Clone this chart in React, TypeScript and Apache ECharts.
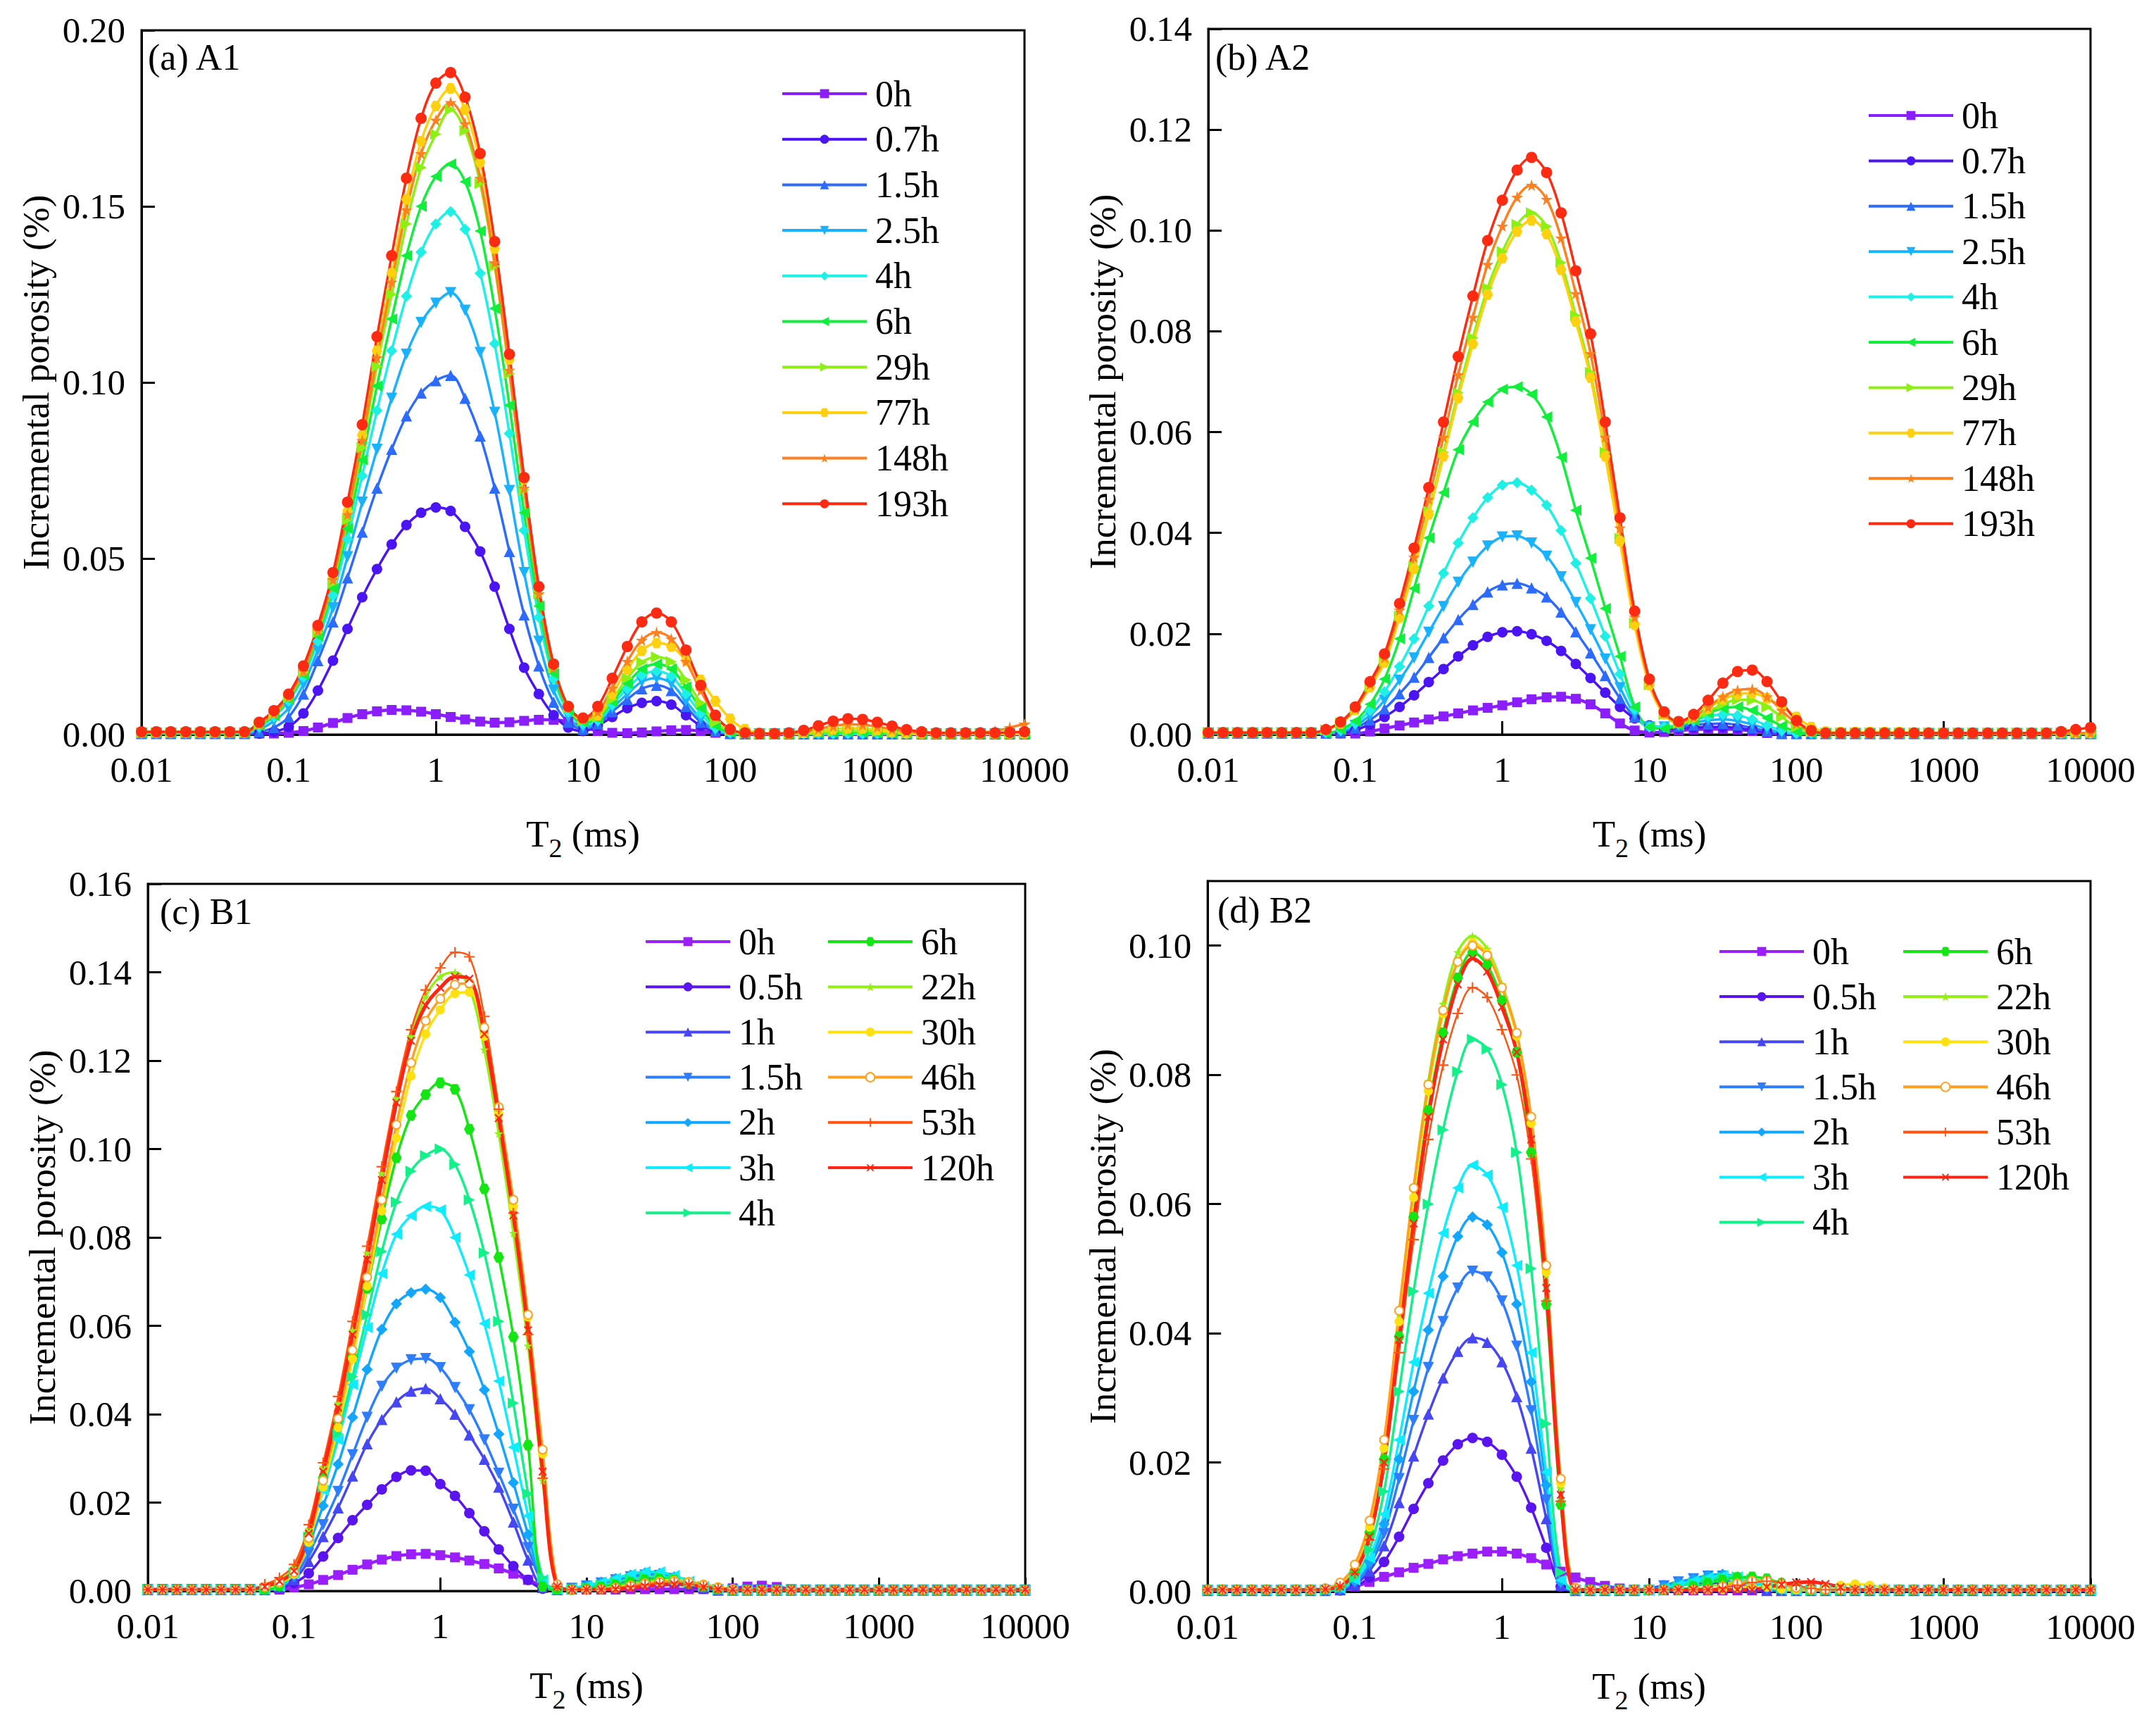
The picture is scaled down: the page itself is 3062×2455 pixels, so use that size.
import React, { useEffect, useRef } from 'react';
import * as echarts from 'echarts';

const FONT = 'Liberation Serif';

// T2 relaxation time grid (ms), shared by all curves
const T2 = [
  0.01, 0.0126, 0.0158, 0.02, 0.0251, 0.0316, 0.0398, 0.0501, 0.0631, 0.0794,
  0.1, 0.126, 0.158, 0.2, 0.251, 0.316, 0.398, 0.501, 0.631, 0.794,
  1, 1.26, 1.58, 2, 2.51, 3.16, 3.98, 5.01, 6.31, 7.94,
  10, 12.6, 15.8, 20, 25.1, 31.6, 39.8, 50.1, 63.1, 79.4,
  100, 126, 158, 200, 251, 316, 398, 501, 631, 794,
  1000, 1260, 1580, 2000, 2510, 3160, 3980, 5010, 6310, 7940,
  10000,
];

const X_TICK_LABELS = ['0.01', '0.1', '1', '10', '100', '1000', '10000'];

// ---------- (a) A1 ----------
const A1_NAMES = ['0h', '0.7h', '1.5h', '2.5h', '4h', '6h', '29h', '77h', '148h', '193h'];
const A1_0h = [
  0.0003, 0.0003, 0.0003, 0.0003, 0.0003, 0.0003, 0.0003, 0.0003, 0.0003, 0.0003,
  0.0005, 0.001, 0.002, 0.0033, 0.0047, 0.0058, 0.0066, 0.007, 0.0069, 0.0065,
  0.0058, 0.005, 0.0043, 0.0037, 0.0034, 0.0035, 0.0039, 0.0042, 0.0042, 0.0036,
  0.0022, 0.001, 0.0005, 0.0004, 0.0006, 0.0009, 0.0012, 0.0013, 0.001, 0.0005,
  0.0002, 0.0001, 0.0001, 0.0001, 0.0001, 0.0001, 0.0001, 0.0001, 0.0001, 0.0001,
  0.0001, 0.0001, 0.0001, 0.0001, 0.0001, 0.0001, 0.0001, 0.0001, 0.0001, 0.0001,
  0.0001,
];
const A1_07h = [
  0.0003, 0.0003, 0.0003, 0.0003, 0.0003, 0.0003, 0.0003, 0.0003, 0.0003, 0.0008,
  0.0022, 0.006, 0.0125, 0.021, 0.03, 0.039, 0.047, 0.054, 0.0595, 0.063,
  0.0645, 0.0635, 0.059, 0.052, 0.042, 0.03, 0.019, 0.0115, 0.0055, 0.002,
  0.001, 0.0025, 0.005, 0.0075, 0.009, 0.0095, 0.0085, 0.0055, 0.0025, 0.0008,
  0.0002, 0.0002, 0.0002, 0.0002, 0.0002, 0.0002, 0.0002, 0.0002, 0.0002, 0.0002,
  0.0002, 0.0002, 0.0002, 0.0002, 0.0002, 0.0002, 0.0002, 0.0002, 0.0002, 0.0002,
  0.0002,
];
const A1_15h = [
  0.0003, 0.0003, 0.0003, 0.0003, 0.0003, 0.0003, 0.0003, 0.0003, 0.0008, 0.002,
  0.005, 0.0115, 0.021, 0.032, 0.0445, 0.0575, 0.07, 0.081, 0.0905, 0.097,
  0.1005, 0.102, 0.0955, 0.0848, 0.07, 0.052, 0.034, 0.0195, 0.0092, 0.0035,
  0.0015, 0.003, 0.0065, 0.01, 0.013, 0.014, 0.0125, 0.008, 0.0035, 0.001,
  0.0003, 0.0002, 0.0002, 0.0002, 0.0002, 0.0002, 0.0002, 0.0002, 0.0002, 0.0002,
  0.0002, 0.0002, 0.0002, 0.0002, 0.0002, 0.0002, 0.0002, 0.0002, 0.0002, 0.0002,
  0.0002,
];
const A1_25h = [
  0.0004, 0.0004, 0.0004, 0.0004, 0.0004, 0.0004, 0.0004, 0.0004, 0.0015, 0.0038,
  0.0075, 0.0143, 0.024, 0.036, 0.0505, 0.066, 0.081, 0.0955, 0.108, 0.117,
  0.1225, 0.1255, 0.1205, 0.1085, 0.0915, 0.0693, 0.046, 0.0265, 0.0126, 0.005,
  0.002, 0.0035, 0.0075, 0.0115, 0.015, 0.016, 0.0145, 0.0095, 0.0045, 0.0012,
  0.0003, 0.0002, 0.0002, 0.0002, 0.0002, 0.0002, 0.0002, 0.0002, 0.0002, 0.0002,
  0.0002, 0.0002, 0.0002, 0.0002, 0.0002, 0.0002, 0.0002, 0.0002, 0.0002, 0.0002,
  0.0002,
];
const A1_4h = [
  0.0004, 0.0004, 0.0004, 0.0004, 0.0004, 0.0004, 0.0004, 0.0004, 0.0022, 0.005,
  0.0095, 0.0163, 0.0265, 0.0395, 0.0555, 0.0735, 0.092, 0.109, 0.1245, 0.137,
  0.145, 0.1485, 0.1435, 0.131, 0.111, 0.0855, 0.058, 0.0333, 0.0158, 0.0064,
  0.003, 0.004, 0.0085, 0.013, 0.0168, 0.018, 0.0165, 0.0115, 0.006, 0.0018,
  0.0004, 0.0002, 0.0002, 0.0002, 0.0002, 0.0002, 0.0002, 0.0002, 0.0002, 0.0002,
  0.0002, 0.0002, 0.0002, 0.0002, 0.0002, 0.0002, 0.0002, 0.0002, 0.0002, 0.0002,
  0.0002,
];
const A1_6h = [
  0.0005, 0.0005, 0.0005, 0.0005, 0.0005, 0.0005, 0.0005, 0.0005, 0.0025, 0.0054,
  0.01, 0.017, 0.028, 0.0415, 0.0585, 0.078, 0.099, 0.118, 0.136, 0.15,
  0.1585, 0.162, 0.157, 0.143, 0.121, 0.0935, 0.063, 0.0365, 0.0173, 0.007,
  0.0035, 0.0045, 0.0093, 0.0145, 0.0186, 0.02, 0.0186, 0.0135, 0.0075, 0.0025,
  0.0006, 0.0002, 0.0002, 0.0002, 0.0002, 0.0003, 0.0004, 0.0006, 0.0007, 0.0006,
  0.0004, 0.0003, 0.0002, 0.0002, 0.0002, 0.0002, 0.0002, 0.0002, 0.0002, 0.0002,
  0.0002,
];
const A1_29h = [
  0.0005, 0.0005, 0.0005, 0.0005, 0.0005, 0.0005, 0.0005, 0.0005, 0.0028, 0.0058,
  0.0105, 0.0177, 0.029, 0.043, 0.061, 0.0815, 0.1045, 0.125, 0.145, 0.161,
  0.1705, 0.1775, 0.1715, 0.1565, 0.133, 0.1025, 0.0695, 0.04, 0.019, 0.0078,
  0.004, 0.005, 0.01, 0.016, 0.0205, 0.022, 0.0207, 0.0155, 0.009, 0.0035,
  0.001, 0.0003, 0.0002, 0.0002, 0.0002, 0.0003, 0.0005, 0.0008, 0.001, 0.001,
  0.0008, 0.0005, 0.0003, 0.0002, 0.0002, 0.0002, 0.0002, 0.0002, 0.0002, 0.0002,
  0.0002,
];
const A1_77h = [
  0.0006, 0.0006, 0.0006, 0.0006, 0.0006, 0.0006, 0.0006, 0.0006, 0.0032, 0.0062,
  0.011, 0.0183, 0.03, 0.0445, 0.0635, 0.085, 0.109, 0.131, 0.152, 0.1685,
  0.1785, 0.1835, 0.1775, 0.1625, 0.138, 0.1065, 0.0725, 0.042, 0.02, 0.008,
  0.0045, 0.0055, 0.0115, 0.0185, 0.0238, 0.026, 0.025, 0.021, 0.0155, 0.0095,
  0.0045, 0.0015, 0.0005, 0.0002, 0.0003, 0.0005, 0.001, 0.0015, 0.0018, 0.0017,
  0.0013, 0.0008, 0.0004, 0.0003, 0.0003, 0.0003, 0.0003, 0.0003, 0.0003, 0.0003,
  0.0003,
];
const A1_148h = [
  0.0006, 0.0006, 0.0006, 0.0006, 0.0006, 0.0006, 0.0006, 0.0006, 0.003, 0.006,
  0.0108, 0.018, 0.0295, 0.044, 0.0625, 0.0835, 0.107, 0.1285, 0.149, 0.165,
  0.1745, 0.1795, 0.1735, 0.158, 0.134, 0.1035, 0.07, 0.04, 0.019, 0.0078,
  0.0045, 0.0065, 0.0132, 0.0208, 0.0268, 0.029, 0.0272, 0.0208, 0.0125, 0.0052,
  0.0015, 0.0004, 0.0003, 0.0002, 0.0003, 0.0008, 0.0016, 0.0024, 0.0029, 0.0028,
  0.0022, 0.0015, 0.0009, 0.0005, 0.0003, 0.0003, 0.0004, 0.0006, 0.001, 0.002,
  0.003,
];
const A1_193h = [
  0.0008, 0.0008, 0.0008, 0.0008, 0.0008, 0.0008, 0.0008, 0.0008, 0.0035, 0.0068,
  0.0115, 0.0195, 0.031, 0.046, 0.066, 0.088, 0.113, 0.136, 0.158, 0.175,
  0.185, 0.188, 0.181, 0.165, 0.14, 0.108, 0.073, 0.042, 0.02, 0.008,
  0.0047, 0.008, 0.016, 0.025, 0.032, 0.0345, 0.032, 0.024, 0.014, 0.0055,
  0.0015, 0.0005, 0.0003, 0.0003, 0.0005, 0.0012, 0.0025, 0.0038, 0.0045, 0.0043,
  0.0035, 0.0024, 0.0014, 0.0008, 0.0005, 0.0005, 0.0005, 0.0005, 0.0005, 0.0006,
  0.0008,
];

// ---------- (b) A2 ----------
const A2_NAMES = ['0h', '0.7h', '1.5h', '2.5h', '4h', '6h', '29h', '77h', '148h', '193h'];
const A2_0h = [
  0.0002, 0.0002, 0.0002, 0.0002, 0.0002, 0.0002, 0.0002, 0.0002, 0.0002, 0.0002,
  0.0002, 0.0006, 0.0012, 0.0018, 0.0024, 0.003, 0.0036, 0.0042, 0.0048, 0.0053,
  0.0058, 0.0064, 0.007, 0.0074, 0.0075, 0.0071, 0.006, 0.0042, 0.0022, 0.0008,
  0.0004, 0.0005, 0.0008, 0.001, 0.0011, 0.0011, 0.001, 0.0007, 0.0003, 0.0001,
  0.0001, 0.0001, 0.0001, 0.0001, 0.0001, 0.0001, 0.0001, 0.0001, 0.0001, 0.0001,
  0.0001, 0.0001, 0.0001, 0.0001, 0.0001, 0.0001, 0.0001, 0.0001, 0.0001, 0.0001,
  0.0001,
];
const A2_07h = [
  0.0003, 0.0003, 0.0003, 0.0003, 0.0003, 0.0003, 0.0003, 0.0003, 0.0003, 0.0003,
  0.0009, 0.002, 0.0035, 0.0055, 0.0078, 0.0104, 0.013, 0.0155, 0.0177, 0.0194,
  0.0203, 0.0205, 0.0199, 0.0186, 0.0166, 0.014, 0.0112, 0.0083, 0.0055, 0.0032,
  0.0018, 0.0012, 0.0012, 0.0014, 0.0015, 0.0015, 0.0013, 0.0009, 0.0005, 0.0002,
  0.0002, 0.0002, 0.0002, 0.0002, 0.0002, 0.0002, 0.0002, 0.0002, 0.0002, 0.0002,
  0.0002, 0.0002, 0.0002, 0.0002, 0.0002, 0.0002, 0.0002, 0.0002, 0.0002, 0.0002,
  0.0002,
];
const A2_15h = [
  0.0003, 0.0003, 0.0003, 0.0003, 0.0003, 0.0003, 0.0003, 0.0003, 0.0003, 0.0005,
  0.0013, 0.0029, 0.0051, 0.0081, 0.0114, 0.0153, 0.0192, 0.0228, 0.0258, 0.0283,
  0.0297, 0.03, 0.0291, 0.0273, 0.0243, 0.0204, 0.0162, 0.0117, 0.0072, 0.0035,
  0.0018, 0.0015, 0.0016, 0.0019, 0.0021, 0.0022, 0.0019, 0.0013, 0.0007, 0.0002,
  0.0002, 0.0002, 0.0002, 0.0002, 0.0002, 0.0002, 0.0002, 0.0002, 0.0002, 0.0002,
  0.0002, 0.0002, 0.0002, 0.0002, 0.0002, 0.0002, 0.0002, 0.0002, 0.0002, 0.0002,
  0.0002,
];
const A2_25h = [
  0.0003, 0.0003, 0.0003, 0.0003, 0.0003, 0.0003, 0.0003, 0.0003, 0.0003, 0.0007,
  0.0018, 0.0038, 0.0068, 0.0108, 0.0152, 0.0203, 0.0254, 0.0302, 0.0342, 0.0374,
  0.0392, 0.0394, 0.038, 0.0354, 0.0313, 0.0262, 0.0208, 0.015, 0.0093, 0.004,
  0.0015, 0.0015, 0.0018, 0.0024, 0.0028, 0.003, 0.0027, 0.002, 0.0011, 0.0004,
  0.0002, 0.0002, 0.0002, 0.0002, 0.0002, 0.0002, 0.0002, 0.0002, 0.0002, 0.0002,
  0.0002, 0.0002, 0.0002, 0.0002, 0.0002, 0.0002, 0.0002, 0.0002, 0.0002, 0.0002,
  0.0002,
];
const A2_4h = [
  0.0003, 0.0003, 0.0003, 0.0003, 0.0003, 0.0003, 0.0003, 0.0003, 0.0003, 0.0008,
  0.0022, 0.0048, 0.0085, 0.0135, 0.019, 0.0255, 0.032, 0.038, 0.043, 0.047,
  0.0495, 0.05, 0.0485, 0.0455, 0.0405, 0.034, 0.027, 0.0195, 0.012, 0.005,
  0.0015, 0.0015, 0.002, 0.0028, 0.0036, 0.004, 0.0038, 0.003, 0.0018, 0.0008,
  0.0002, 0.0002, 0.0002, 0.0002, 0.0002, 0.0002, 0.0002, 0.0002, 0.0002, 0.0002,
  0.0002, 0.0002, 0.0002, 0.0002, 0.0002, 0.0002, 0.0002, 0.0002, 0.0002, 0.0002,
  0.0002,
];
const A2_6h = [
  0.0003, 0.0003, 0.0003, 0.0003, 0.0003, 0.0003, 0.0003, 0.0003, 0.0003, 0.001,
  0.0027, 0.006, 0.011, 0.019, 0.029, 0.039, 0.048, 0.0565, 0.062, 0.066,
  0.0685, 0.069, 0.0675, 0.063, 0.055, 0.0445, 0.035, 0.025, 0.0155, 0.0055,
  0.0015, 0.0012, 0.0018, 0.0028, 0.0042, 0.0052, 0.0055, 0.0048, 0.0033, 0.0017,
  0.0006, 0.0002, 0.0002, 0.0002, 0.0002, 0.0002, 0.0002, 0.0002, 0.0002, 0.0002,
  0.0002, 0.0002, 0.0002, 0.0002, 0.0002, 0.0002, 0.0002, 0.0002, 0.0002, 0.0002,
  0.0002,
];
const A2_29h = [
  0.0004, 0.0004, 0.0004, 0.0004, 0.0004, 0.0004, 0.0004, 0.0004, 0.0009, 0.0023,
  0.005, 0.0095, 0.0145, 0.0235, 0.0334, 0.0443, 0.056, 0.0678, 0.0787, 0.0886,
  0.0958, 0.1012, 0.1035, 0.1008, 0.0936, 0.0831, 0.0718, 0.056, 0.0389, 0.0221,
  0.0099, 0.004, 0.0022, 0.003, 0.0045, 0.006, 0.0069, 0.0068, 0.0055, 0.0035,
  0.0015, 0.0005, 0.0003, 0.0003, 0.0003, 0.0003, 0.0003, 0.0003, 0.0003, 0.0003,
  0.0003, 0.0003, 0.0003, 0.0003, 0.0003, 0.0003, 0.0003, 0.0003, 0.0003, 0.0003,
  0.0003,
];
const A2_77h = [
  0.0004, 0.0004, 0.0004, 0.0004, 0.0004, 0.0004, 0.0004, 0.0004, 0.0009, 0.0022,
  0.0049, 0.0094, 0.0143, 0.0232, 0.0329, 0.0437, 0.0552, 0.0668, 0.0775, 0.0873,
  0.0945, 0.0998, 0.102, 0.0993, 0.0922, 0.0819, 0.0708, 0.0552, 0.0384, 0.0218,
  0.0098, 0.004, 0.0025, 0.0035, 0.0052, 0.007, 0.008, 0.0082, 0.0072, 0.0055,
  0.0035, 0.0015, 0.0006, 0.0005, 0.0005, 0.0005, 0.0005, 0.0005, 0.0004, 0.0004,
  0.0003, 0.0003, 0.0003, 0.0003, 0.0003, 0.0003, 0.0003, 0.0003, 0.0003, 0.0003,
  0.0003,
];
const A2_148h = [
  0.0004, 0.0004, 0.0004, 0.0004, 0.0004, 0.0004, 0.0004, 0.0004, 0.001, 0.0024,
  0.0052, 0.01, 0.0153, 0.0247, 0.0352, 0.0467, 0.059, 0.0714, 0.0828, 0.0933,
  0.1009, 0.1066, 0.109, 0.1062, 0.0985, 0.0875, 0.0756, 0.059, 0.041, 0.0233,
  0.0105, 0.0043, 0.0025, 0.0035, 0.0055, 0.0075, 0.0088, 0.009, 0.0075, 0.0048,
  0.0022, 0.0007, 0.0003, 0.0003, 0.0003, 0.0003, 0.0003, 0.0003, 0.0003, 0.0003,
  0.0003, 0.0003, 0.0003, 0.0003, 0.0003, 0.0003, 0.0003, 0.0003, 0.0003, 0.0003,
  0.0003,
];
const A2_193h = [
  0.0004, 0.0004, 0.0004, 0.0004, 0.0004, 0.0004, 0.0004, 0.0004, 0.001, 0.0025,
  0.0055, 0.0105, 0.016, 0.026, 0.037, 0.049, 0.062, 0.075, 0.087, 0.098,
  0.106, 0.112, 0.1145, 0.1115, 0.1035, 0.092, 0.0795, 0.062, 0.043, 0.0245,
  0.011, 0.0045, 0.0026, 0.004, 0.0068, 0.0102, 0.0125, 0.0128, 0.0105, 0.0065,
  0.0028, 0.0008, 0.0003, 0.0003, 0.0003, 0.0003, 0.0003, 0.0003, 0.0003, 0.0003,
  0.0003, 0.0003, 0.0003, 0.0003, 0.0003, 0.0003, 0.0003, 0.0003, 0.0006, 0.001,
  0.0014,
];

// ---------- (c) B1 ----------
const B_NAMES = ['0h', '0.5h', '1h', '1.5h', '2h', '3h', '4h', '6h', '22h', '30h', '46h', '53h', '120h'];
const B1_0h = [
  0.0003, 0.0003, 0.0003, 0.0003, 0.0003, 0.0003, 0.0003, 0.0003, 0.0003, 0.0003,
  0.0008, 0.0015, 0.0025, 0.0036, 0.0048, 0.006, 0.0071, 0.0079, 0.0083, 0.0084,
  0.0081, 0.0076, 0.0069, 0.0061, 0.0051, 0.0039, 0.0025, 0.0012, 0.0006, 0.0004,
  0.0003, 0.0003, 0.0003, 0.0004, 0.0004, 0.0004, 0.0004, 0.0004, 0.0004, 0.0004,
  0.0006, 0.001, 0.0012, 0.0009, 0.0004, 0.0003, 0.0003, 0.0003, 0.0003, 0.0003,
  0.0003, 0.0003, 0.0003, 0.0003, 0.0003, 0.0003, 0.0003, 0.0003, 0.0003, 0.0003,
  0.0003,
];
const B1_05h = [
  0.0003, 0.0003, 0.0003, 0.0003, 0.0003, 0.0003, 0.0003, 0.0003, 0.0003, 0.0006,
  0.0018, 0.004, 0.0078, 0.012, 0.016, 0.0195, 0.023, 0.0258, 0.0273, 0.0272,
  0.0242, 0.0215, 0.0176, 0.0135, 0.0094, 0.0056, 0.0025, 0.0005, 0.0003, 0.0004,
  0.0008, 0.0013, 0.0018, 0.0022, 0.0024, 0.0023, 0.0018, 0.0011, 0.0005, 0.0002,
  0.0002, 0.0002, 0.0002, 0.0002, 0.0002, 0.0002, 0.0002, 0.0002, 0.0002, 0.0002,
  0.0002, 0.0002, 0.0002, 0.0002, 0.0002, 0.0002, 0.0002, 0.0002, 0.0002, 0.0002,
  0.0002,
];
const B1_1h = [
  0.0003, 0.0003, 0.0003, 0.0003, 0.0003, 0.0003, 0.0003, 0.0003, 0.0003, 0.0008,
  0.0026, 0.0067, 0.0123, 0.0188, 0.026, 0.0333, 0.0388, 0.0428, 0.0452, 0.0458,
  0.0435, 0.04, 0.0353, 0.0298, 0.0235, 0.0156, 0.007, 0.0008, 0.0003, 0.0005,
  0.001, 0.0016, 0.0022, 0.0028, 0.0031, 0.003, 0.0024, 0.0015, 0.0007, 0.0002,
  0.0002, 0.0002, 0.0002, 0.0002, 0.0002, 0.0002, 0.0002, 0.0002, 0.0002, 0.0002,
  0.0002, 0.0002, 0.0002, 0.0002, 0.0002, 0.0002, 0.0002, 0.0002, 0.0002, 0.0002,
  0.0002,
];
const B1_15h = [
  0.0003, 0.0003, 0.0003, 0.0003, 0.0003, 0.0003, 0.0003, 0.0003, 0.0003, 0.0009,
  0.003, 0.0085, 0.015, 0.0225, 0.0308, 0.0393, 0.0463, 0.0504, 0.0523, 0.0526,
  0.0505, 0.046, 0.041, 0.0342, 0.0266, 0.0185, 0.0098, 0.0018, 0.0003, 0.0006,
  0.0011, 0.0018, 0.0025, 0.0032, 0.0036, 0.0035, 0.0028, 0.0017, 0.0008, 0.0002,
  0.0002, 0.0002, 0.0002, 0.0002, 0.0002, 0.0002, 0.0002, 0.0002, 0.0002, 0.0002,
  0.0002, 0.0002, 0.0002, 0.0002, 0.0002, 0.0002, 0.0002, 0.0002, 0.0002, 0.0002,
  0.0002,
];
const B1_2h = [
  0.0003, 0.0003, 0.0003, 0.0003, 0.0003, 0.0003, 0.0003, 0.0003, 0.0003, 0.001,
  0.0035, 0.0104, 0.0193, 0.0287, 0.0393, 0.0501, 0.0592, 0.065, 0.0675, 0.0683,
  0.0664, 0.0608, 0.0542, 0.0455, 0.0355, 0.0245, 0.0128, 0.0022, 0.0003, 0.0006,
  0.0012, 0.002, 0.0028, 0.0036, 0.0041, 0.004, 0.0032, 0.002, 0.0009, 0.0003,
  0.0002, 0.0002, 0.0002, 0.0002, 0.0002, 0.0002, 0.0002, 0.0002, 0.0002, 0.0002,
  0.0002, 0.0002, 0.0002, 0.0002, 0.0002, 0.0002, 0.0002, 0.0002, 0.0002, 0.0002,
  0.0002,
];
const B1_3h = [
  0.0003, 0.0003, 0.0003, 0.0003, 0.0003, 0.0003, 0.0003, 0.0003, 0.0003, 0.001,
  0.0039, 0.0118, 0.0228, 0.0342, 0.0467, 0.0596, 0.0718, 0.0807, 0.0849, 0.087,
  0.0862, 0.08, 0.0715, 0.0605, 0.0475, 0.0325, 0.017, 0.0025, 0.0003, 0.0006,
  0.0012, 0.002, 0.0029, 0.0038, 0.0044, 0.0043, 0.0035, 0.0022, 0.001, 0.0003,
  0.0002, 0.0002, 0.0002, 0.0002, 0.0002, 0.0002, 0.0002, 0.0002, 0.0002, 0.0002,
  0.0002, 0.0002, 0.0002, 0.0002, 0.0002, 0.0002, 0.0002, 0.0002, 0.0002, 0.0002,
  0.0002,
];
const B1_4h = [
  0.0003, 0.0003, 0.0003, 0.0003, 0.0003, 0.0003, 0.0003, 0.0003, 0.0003, 0.0011,
  0.0041, 0.0122, 0.0235, 0.0355, 0.0485, 0.0625, 0.0768, 0.088, 0.095, 0.0985,
  0.1, 0.0965, 0.0885, 0.0765, 0.061, 0.0425, 0.022, 0.003, 0.0003, 0.0004,
  0.0008, 0.0013, 0.002, 0.0027, 0.0032, 0.0033, 0.0028, 0.0019, 0.001, 0.0003,
  0.0002, 0.0002, 0.0002, 0.0002, 0.0002, 0.0002, 0.0002, 0.0002, 0.0002, 0.0002,
  0.0002, 0.0002, 0.0002, 0.0002, 0.0002, 0.0002, 0.0002, 0.0002, 0.0002, 0.0002,
  0.0002,
];
const B1_6h = [
  0.0003, 0.0003, 0.0003, 0.0003, 0.0003, 0.0003, 0.0003, 0.0003, 0.0003, 0.0012,
  0.0044, 0.0127, 0.0256, 0.0386, 0.053, 0.0685, 0.0842, 0.098, 0.1076, 0.1123,
  0.115, 0.1135, 0.1045, 0.091, 0.0755, 0.0575, 0.033, 0.001, 0.0003, 0.0003,
  0.0005, 0.0009, 0.0014, 0.002, 0.0025, 0.0027, 0.0025, 0.0018, 0.001, 0.0004,
  0.0002, 0.0002, 0.0002, 0.0002, 0.0002, 0.0002, 0.0002, 0.0002, 0.0002, 0.0002,
  0.0002, 0.0002, 0.0002, 0.0002, 0.0002, 0.0002, 0.0002, 0.0002, 0.0002, 0.0002,
  0.0002,
];
const B1_22h = [
  0.0003, 0.0003, 0.0003, 0.0003, 0.0003, 0.0003, 0.0003, 0.0003, 0.0012, 0.0026,
  0.0052, 0.014, 0.028, 0.0425, 0.059, 0.0765, 0.0945, 0.1115, 0.1255, 0.1345,
  0.139, 0.14, 0.1365, 0.1225, 0.1035, 0.081, 0.0555, 0.025, 0.001, 0.0003,
  0.0003, 0.0006, 0.001, 0.0015, 0.002, 0.0024, 0.0025, 0.002, 0.0013, 0.0006,
  0.0002, 0.0002, 0.0002, 0.0002, 0.0002, 0.0002, 0.0002, 0.0002, 0.0002, 0.0002,
  0.0002, 0.0002, 0.0002, 0.0002, 0.0002, 0.0002, 0.0002, 0.0002, 0.0002, 0.0002,
  0.0002,
];
const B1_30h = [
  0.0003, 0.0003, 0.0003, 0.0003, 0.0003, 0.0003, 0.0003, 0.0003, 0.0008, 0.0018,
  0.0038, 0.011, 0.0235, 0.037, 0.0525, 0.069, 0.086, 0.1025, 0.1165, 0.126,
  0.1315, 0.1352, 0.1355, 0.1255, 0.108, 0.087, 0.062, 0.031, 0.0015, 0.0003,
  0.0003, 0.0005, 0.0008, 0.0013, 0.0018, 0.0022, 0.0024, 0.0022, 0.0016, 0.001,
  0.0005, 0.0002, 0.0002, 0.0002, 0.0002, 0.0002, 0.0002, 0.0002, 0.0002, 0.0002,
  0.0002, 0.0002, 0.0002, 0.0002, 0.0002, 0.0002, 0.0002, 0.0002, 0.0002, 0.0002,
  0.0002,
];
const B1_46h = [
  0.0003, 0.0003, 0.0003, 0.0003, 0.0003, 0.0003, 0.0003, 0.0003, 0.0009, 0.002,
  0.0042, 0.012, 0.025, 0.039, 0.0545, 0.071, 0.0885, 0.1055, 0.1195, 0.129,
  0.134, 0.1372, 0.1375, 0.1275, 0.1095, 0.0885, 0.0625, 0.032, 0.0015, 0.0003,
  0.0003, 0.0004, 0.0007, 0.0012, 0.0017, 0.002, 0.0022, 0.002, 0.0014, 0.0008,
  0.0003, 0.0002, 0.0002, 0.0002, 0.0002, 0.0002, 0.0002, 0.0002, 0.0002, 0.0002,
  0.0002, 0.0002, 0.0002, 0.0002, 0.0002, 0.0002, 0.0002, 0.0002, 0.0002, 0.0002,
  0.0002,
];
const B1_53h = [
  0.0003, 0.0003, 0.0003, 0.0003, 0.0003, 0.0003, 0.0003, 0.0003, 0.0015, 0.003,
  0.006, 0.015, 0.029, 0.044, 0.061, 0.078, 0.096, 0.113, 0.127, 0.136,
  0.141, 0.1445, 0.1435, 0.13, 0.109, 0.0855, 0.058, 0.0255, 0.001, 0.0003,
  0.0003, 0.0004, 0.0006, 0.001, 0.0014, 0.0017, 0.0018, 0.0015, 0.001, 0.0005,
  0.0002, 0.0002, 0.0002, 0.0002, 0.0002, 0.0002, 0.0002, 0.0002, 0.0002, 0.0002,
  0.0002, 0.0002, 0.0002, 0.0002, 0.0002, 0.0002, 0.0002, 0.0002, 0.0002, 0.0002,
  0.0002,
];
const B1_120h = [
  0.0003, 0.0003, 0.0003, 0.0003, 0.0003, 0.0003, 0.0003, 0.0004, 0.001, 0.0022,
  0.0045, 0.013, 0.027, 0.0415, 0.058, 0.075, 0.093, 0.1105, 0.1245, 0.1325,
  0.1365, 0.139, 0.1385, 0.126, 0.107, 0.085, 0.059, 0.027, 0.001, 0.0003,
  0.0003, 0.0003, 0.0004, 0.0006, 0.001, 0.0013, 0.0015, 0.0013, 0.0009, 0.0004,
  0.0003, 0.0003, 0.0003, 0.0003, 0.0003, 0.0003, 0.0003, 0.0003, 0.0003, 0.0003,
  0.0003, 0.0003, 0.0003, 0.0003, 0.0003, 0.0003, 0.0003, 0.0003, 0.0003, 0.0003,
  0.0003,
];

// ---------- (d) B2 ----------
const B2_0h = [
  0.0002, 0.0002, 0.0002, 0.0002, 0.0002, 0.0002, 0.0002, 0.0002, 0.0002, 0.0003,
  0.0008, 0.0015, 0.0023, 0.003, 0.0037, 0.0043, 0.005, 0.0055, 0.0059, 0.0062,
  0.0062, 0.0059, 0.0052, 0.0042, 0.0031, 0.0022, 0.0015, 0.0009, 0.0005, 0.0003,
  0.0002, 0.0002, 0.0002, 0.0002, 0.0002, 0.0002, 0.0002, 0.0002, 0.0002, 0.0002,
  0.0002, 0.0002, 0.0002, 0.0002, 0.0002, 0.0002, 0.0002, 0.0002, 0.0002, 0.0002,
  0.0002, 0.0002, 0.0002, 0.0002, 0.0002, 0.0002, 0.0002, 0.0002, 0.0002, 0.0002,
  0.0002,
];
const B2_05h = [
  0.0002, 0.0002, 0.0002, 0.0002, 0.0002, 0.0002, 0.0002, 0.0002, 0.0002, 0.0002,
  0.0008, 0.0022, 0.0046, 0.0085, 0.0128, 0.0168, 0.0203, 0.0228, 0.0238, 0.0232,
  0.0212, 0.0178, 0.013, 0.0068, 0.0008, 0.0002, 0.0002, 0.0002, 0.0002, 0.0002,
  0.0003, 0.0006, 0.001, 0.0013, 0.0014, 0.0012, 0.0008, 0.0004, 0.0002, 0.0002,
  0.0002, 0.0002, 0.0002, 0.0002, 0.0002, 0.0002, 0.0002, 0.0002, 0.0002, 0.0002,
  0.0002, 0.0002, 0.0002, 0.0002, 0.0002, 0.0002, 0.0002, 0.0002, 0.0002, 0.0002,
  0.0002,
];
const B2_1h = [
  0.0002, 0.0002, 0.0002, 0.0002, 0.0002, 0.0002, 0.0002, 0.0002, 0.0002, 0.0003,
  0.0011, 0.0032, 0.0071, 0.0138, 0.021, 0.0275, 0.0331, 0.0372, 0.0393, 0.0386,
  0.0356, 0.0302, 0.0222, 0.0113, 0.001, 0.0002, 0.0002, 0.0002, 0.0002, 0.0002,
  0.0005, 0.001, 0.0015, 0.0019, 0.002, 0.0018, 0.0012, 0.0006, 0.0002, 0.0002,
  0.0002, 0.0002, 0.0002, 0.0002, 0.0002, 0.0002, 0.0002, 0.0002, 0.0002, 0.0002,
  0.0002, 0.0002, 0.0002, 0.0002, 0.0002, 0.0002, 0.0002, 0.0002, 0.0002, 0.0002,
  0.0002,
];
const B2_15h = [
  0.0002, 0.0002, 0.0002, 0.0002, 0.0002, 0.0002, 0.0002, 0.0002, 0.0002, 0.0004,
  0.0014, 0.004, 0.009, 0.0175, 0.0265, 0.0347, 0.0418, 0.047, 0.0496, 0.0487,
  0.045, 0.038, 0.028, 0.0142, 0.0013, 0.0002, 0.0002, 0.0002, 0.0002, 0.0002,
  0.0002, 0.0009, 0.0015, 0.002, 0.0024, 0.0024, 0.0019, 0.0011, 0.0004, 0.0002,
  0.0002, 0.0002, 0.0002, 0.0002, 0.0002, 0.0002, 0.0002, 0.0002, 0.0002, 0.0002,
  0.0002, 0.0002, 0.0002, 0.0002, 0.0002, 0.0002, 0.0002, 0.0002, 0.0002, 0.0002,
  0.0002,
];
const B2_2h = [
  0.0002, 0.0002, 0.0002, 0.0002, 0.0002, 0.0002, 0.0002, 0.0002, 0.0002, 0.0004,
  0.0016, 0.0046, 0.0105, 0.0205, 0.031, 0.0405, 0.0488, 0.055, 0.058, 0.0568,
  0.0525, 0.0445, 0.0325, 0.0165, 0.0015, 0.0002, 0.0002, 0.0002, 0.0002, 0.0002,
  0.0002, 0.0008, 0.0014, 0.002, 0.0025, 0.0027, 0.0023, 0.0015, 0.0006, 0.0002,
  0.0002, 0.0002, 0.0002, 0.0002, 0.0002, 0.0002, 0.0002, 0.0002, 0.0002, 0.0002,
  0.0002, 0.0002, 0.0002, 0.0002, 0.0002, 0.0002, 0.0002, 0.0002, 0.0002, 0.0002,
  0.0002,
];
const B2_3h = [
  0.0002, 0.0002, 0.0002, 0.0002, 0.0002, 0.0002, 0.0002, 0.0002, 0.0002, 0.0005,
  0.0018, 0.0052, 0.012, 0.0235, 0.0355, 0.0462, 0.0555, 0.0625, 0.066, 0.0645,
  0.0595, 0.0505, 0.037, 0.0185, 0.0018, 0.0002, 0.0002, 0.0002, 0.0002, 0.0002,
  0.0002, 0.0006, 0.0011, 0.0017, 0.0022, 0.0025, 0.0023, 0.0016, 0.0008, 0.0003,
  0.0002, 0.0002, 0.0002, 0.0002, 0.0002, 0.0002, 0.0002, 0.0002, 0.0002, 0.0002,
  0.0002, 0.0002, 0.0002, 0.0002, 0.0002, 0.0002, 0.0002, 0.0002, 0.0002, 0.0002,
  0.0002,
];
const B2_4h = [
  0.0002, 0.0002, 0.0002, 0.0002, 0.0002, 0.0002, 0.0002, 0.0002, 0.0002, 0.0006,
  0.0022, 0.0065, 0.0155, 0.031, 0.0465, 0.06, 0.0715, 0.0805, 0.0855, 0.084,
  0.0785, 0.068, 0.05, 0.026, 0.003, 0.0002, 0.0002, 0.0002, 0.0002, 0.0002,
  0.0002, 0.0002, 0.0008, 0.0013, 0.0018, 0.0022, 0.0023, 0.0019, 0.0012, 0.0005,
  0.0002, 0.0002, 0.0002, 0.0002, 0.0002, 0.0002, 0.0002, 0.0002, 0.0002, 0.0002,
  0.0002, 0.0002, 0.0002, 0.0002, 0.0002, 0.0002, 0.0002, 0.0002, 0.0002, 0.0002,
  0.0002,
];
const B2_6h = [
  0.0003, 0.0003, 0.0003, 0.0003, 0.0003, 0.0003, 0.0003, 0.0003, 0.0004, 0.001,
  0.0034, 0.0092, 0.0205, 0.0395, 0.058, 0.0745, 0.0865, 0.095, 0.099, 0.097,
  0.0915, 0.0835, 0.068, 0.0445, 0.0135, 0.0004, 0.0003, 0.0003, 0.0003, 0.0003,
  0.0003, 0.0003, 0.0003, 0.0008, 0.0013, 0.0018, 0.0022, 0.0023, 0.002, 0.0013,
  0.0006, 0.0003, 0.0003, 0.0003, 0.0003, 0.0003, 0.0003, 0.0003, 0.0003, 0.0003,
  0.0003, 0.0003, 0.0003, 0.0003, 0.0003, 0.0003, 0.0003, 0.0003, 0.0003, 0.0003,
  0.0003,
];
const B2_22h = [
  0.0003, 0.0003, 0.0003, 0.0003, 0.0003, 0.0003, 0.0003, 0.0003, 0.0004, 0.0012,
  0.004, 0.0105, 0.023, 0.043, 0.0625, 0.079, 0.091, 0.099, 0.1015, 0.0995,
  0.094, 0.0865, 0.0725, 0.049, 0.016, 0.0005, 0.0003, 0.0003, 0.0003, 0.0003,
  0.0003, 0.0003, 0.0003, 0.0003, 0.0008, 0.0012, 0.0016, 0.0018, 0.0016, 0.0011,
  0.0005, 0.0003, 0.0003, 0.0003, 0.0003, 0.0003, 0.0003, 0.0003, 0.0003, 0.0003,
  0.0003, 0.0003, 0.0003, 0.0003, 0.0003, 0.0003, 0.0003, 0.0003, 0.0003, 0.0003,
  0.0003,
];
const B2_30h = [
  0.0003, 0.0003, 0.0003, 0.0003, 0.0003, 0.0003, 0.0003, 0.0003, 0.0004, 0.0012,
  0.0038, 0.01, 0.0222, 0.0418, 0.061, 0.0775, 0.0895, 0.0975, 0.1005, 0.0988,
  0.0935, 0.086, 0.0725, 0.0495, 0.0168, 0.0006, 0.0003, 0.0003, 0.0003, 0.0003,
  0.0003, 0.0003, 0.0003, 0.0003, 0.0003, 0.0003, 0.0006, 0.0008, 0.0007, 0.0004,
  0.0003, 0.0003, 0.0006, 0.001, 0.0012, 0.001, 0.0006, 0.0003, 0.0003, 0.0003,
  0.0003, 0.0003, 0.0003, 0.0003, 0.0003, 0.0003, 0.0003, 0.0003, 0.0003, 0.0003,
  0.0003,
];
const B2_46h = [
  0.0003, 0.0003, 0.0003, 0.0003, 0.0003, 0.0003, 0.0003, 0.0003, 0.0005, 0.0014,
  0.0042, 0.011, 0.0235, 0.0435, 0.0625, 0.0785, 0.09, 0.0975, 0.1, 0.0985,
  0.0935, 0.0865, 0.0735, 0.0505, 0.0175, 0.0006, 0.0003, 0.0003, 0.0003, 0.0003,
  0.0003, 0.0003, 0.0003, 0.0003, 0.0003, 0.0008, 0.0013, 0.0017, 0.0017, 0.0012,
  0.0006, 0.0003, 0.0003, 0.0003, 0.0003, 0.0003, 0.0003, 0.0003, 0.0003, 0.0003,
  0.0003, 0.0003, 0.0003, 0.0003, 0.0003, 0.0003, 0.0003, 0.0003, 0.0003, 0.0003,
  0.0003,
];
const B2_53h = [
  0.0003, 0.0003, 0.0003, 0.0003, 0.0003, 0.0003, 0.0003, 0.0003, 0.0004, 0.0008,
  0.0028, 0.008, 0.019, 0.037, 0.0545, 0.07, 0.0815, 0.0895, 0.0935, 0.092,
  0.087, 0.08, 0.067, 0.045, 0.014, 0.0003, 0.0003, 0.0003, 0.0003, 0.0003,
  0.0003, 0.0003, 0.0003, 0.0003, 0.0003, 0.0006, 0.001, 0.0014, 0.0016, 0.0014,
  0.001, 0.0005, 0.0003, 0.0003, 0.0003, 0.0003, 0.0003, 0.0003, 0.0003, 0.0003,
  0.0003, 0.0003, 0.0003, 0.0003, 0.0003, 0.0003, 0.0003, 0.0003, 0.0003, 0.0003,
  0.0003,
];
const B2_120h = [
  0.0003, 0.0003, 0.0003, 0.0003, 0.0003, 0.0003, 0.0003, 0.0003, 0.0004, 0.0008,
  0.003, 0.0085, 0.02, 0.039, 0.057, 0.0735, 0.0855, 0.094, 0.098, 0.096,
  0.0905, 0.0835, 0.07, 0.047, 0.015, 0.0003, 0.0003, 0.0003, 0.0003, 0.0003,
  0.0003, 0.0003, 0.0003, 0.0003, 0.0003, 0.0003, 0.0003, 0.0003, 0.0007, 0.0011,
  0.0014, 0.0015, 0.0012, 0.0007, 0.0003, 0.0003, 0.0003, 0.0003, 0.0003, 0.0003,
  0.0003, 0.0003, 0.0003, 0.0003, 0.0003, 0.0003, 0.0003, 0.0003, 0.0003, 0.0003,
  0.0003,
];

// ---------- styles ----------
const A_COLORS = ['#8B1EFF', '#4A14F5', '#2D6BFF', '#18B2FF', '#1EF0E6', '#12EE3C', '#8CF014', '#FFD00F', '#FF8020', '#FF2A12'];
const B_COLORS = ['#9A1EFF', '#5A14F0', '#4646F5', '#2F7DFF', '#12A6FF', '#10ECFF', '#12F08A', '#14E614', '#92F014', '#FFE010', '#FFA022', '#FF5412', '#FF2414'];

const STAR = 'path://M50,0 L61,35 L98,35 L68,57 L79,91 L50,70 L21,91 L32,57 L2,35 L39,35 Z';
const HEX = 'path://M25,0 L75,0 L100,43 L75,86 L25,86 L0,43 Z';
const PLUS = 'path://M43,0 H57 V43 H100 V57 H57 V100 H43 V57 H0 V43 H43 Z';

type Mk = { symbol: string; rotate?: number; size?: number; width?: number };
const A_MARKS: Mk[] = [
  { symbol: 'rect', size: 14, width: 4.5 },
  { symbol: 'circle', size: 15 },
  { symbol: 'triangle', size: 16 },
  { symbol: 'triangle', rotate: 180, size: 16 },
  { symbol: 'diamond', size: 16 },
  { symbol: 'triangle', rotate: 90, size: 16 },
  { symbol: 'triangle', rotate: -90, size: 16 },
  { symbol: HEX, size: 15 },
  { symbol: STAR, size: 17 },
  { symbol: 'circle', size: 16 },
];
const B_MARKS: Mk[] = [
  { symbol: 'rect', size: 14, width: 4.5 },
  { symbol: 'circle', size: 15 },
  { symbol: 'triangle', size: 16 },
  { symbol: 'triangle', rotate: 180, size: 16 },
  { symbol: 'diamond', size: 16 },
  { symbol: 'triangle', rotate: 90, size: 16 },
  { symbol: 'triangle', rotate: -90, size: 16 },
  { symbol: HEX, size: 15 },
  { symbol: STAR, size: 13 },
  { symbol: 'circle', size: 13 },
  { symbol: 'emptyCircle', size: 12 },
  { symbol: PLUS, size: 15, width: 2.5 },
  { symbol: PLUS, rotate: 45, size: 15, width: 5 },
];

type PanelCfg = {
  label: string;
  labelX: number;
  labelY: number;
  grid: { left: number; top: number; width: number; height: number };
  xNameGap: number;
  yMax: number;
  yInterval: number;
  showMaxLabel: boolean;
  names: string[];
  values: number[][];
  colors: string[];
  marks: Mk[];
  legends: { left: number; top: number; from: number; to: number }[];
  legendGap: number;
};

function buildOption(cfg: PanelCfg) {
  const series = cfg.names.map((name, i) => {
    const mk = cfg.marks[i];
    return {
      type: 'line',
      name,
      data: T2.map((x, j) => [x, cfg.values[i][j]]),
      smooth: 0.35,
      showSymbol: true,
      showAllSymbol: true,
      symbol: mk.symbol,
      symbolSize: mk.size || 14,
      symbolRotate: mk.rotate || 0,
      lineStyle: { color: cfg.colors[i], width: mk.width || 3.5 },
      itemStyle: { color: cfg.colors[i], borderWidth: mk.symbol === 'emptyCircle' ? 2.5 : 0 },
      emphasis: { disabled: true },
      animation: false,
    };
  });
  const legends = cfg.legends.map((lg) => ({
    show: true,
    orient: 'vertical',
    left: lg.left,
    top: lg.top,
    padding: 0,
    itemWidth: 120,
    itemHeight: 16,
    itemGap: cfg.legendGap,
    selectedMode: false,
    data: cfg.names.slice(lg.from, lg.to),
    lineStyle: { width: 4 },
    textStyle: { fontFamily: FONT, fontSize: 52, color: '#000', lineHeight: 52, padding: [0, 0, 0, 7] },
  }));
  return {
    animation: false,
    backgroundColor: '#fff',
    textStyle: { fontFamily: FONT },
    grid: { ...cfg.grid, show: true, borderColor: '#000', borderWidth: 3, backgroundColor: 'transparent' },
    legend: legends,
    graphic: [
      {
        type: 'text',
        x: cfg.labelX,
        y: cfg.labelY,
        style: { text: cfg.label, fontFamily: FONT, fontSize: 52, fill: '#000', align: 'left', verticalAlign: 'middle' },
      },
    ],
    xAxis: {
      type: 'log',
      logBase: 10,
      min: 0.01,
      max: 10000,
      axisLine: { show: true, onZero: false, lineStyle: { color: '#000', width: 3 } },
      axisTick: { show: true, inside: true, length: 19, lineStyle: { color: '#000', width: 3 } },
      minorTick: { show: false },
      splitLine: { show: false },
      axisLabel: {
        margin: 24,
        fontSize: 51,
        color: '#000',
        fontFamily: FONT,
        formatter: (v: number) => X_TICK_LABELS[Math.round(Math.log10(v)) + 2] ?? '',
      },
      name: '{t|T}{s|2}{t| (ms)}',
      nameLocation: 'middle',
      nameGap: cfg.xNameGap,
      nameTextStyle: {
        rich: {
          t: { fontSize: 53, lineHeight: 80, fontFamily: FONT, color: '#000' },
          s: { fontSize: 38, lineHeight: 40, padding: [40, 0, 0, 0], fontFamily: FONT, color: '#000' },
        },
      },
    },
    yAxis: {
      type: 'value',
      min: 0,
      max: cfg.yMax,
      interval: cfg.yInterval,
      axisLine: { show: true, lineStyle: { color: '#000', width: 3 } },
      axisTick: { show: true, inside: true, length: 19, lineStyle: { color: '#000', width: 3 } },
      splitLine: { show: false },
      axisLabel: {
        margin: 23,
        fontSize: 51,
        color: '#000',
        fontFamily: FONT,
        showMaxLabel: cfg.showMaxLabel,
        formatter: (v: number) => v.toFixed(2),
      },
      name: 'Incremental porosity (%)',
      nameLocation: 'middle',
      nameGap: 120,
      nameRotate: 90,
      nameTextStyle: { fontSize: 53, fontFamily: FONT, color: '#000' },
    },
    series,
  };
}

const PANELS: { pos: { left: number; top: number; width: number; height: number }; cfg: PanelCfg }[] = [
  {
    pos: { left: 0, top: 0, width: 1531, height: 1228 },
    cfg: {
      label: '(a) A1', labelX: 210, labelY: 81,
      grid: { left: 201, top: 43, width: 1254, height: 1008 },
      xNameGap: 101,
      yMax: 0.2, yInterval: 0.05, showMaxLabel: true,
      names: A1_NAMES,
      values: [A1_0h, A1_07h, A1_15h, A1_25h, A1_4h, A1_6h, A1_29h, A1_77h, A1_148h, A1_193h],
      colors: A_COLORS, marks: A_MARKS,
      legends: [{ left: 1109, top: 107, from: 0, to: 10 }],
      legendGap: 12.7,
    },
  },
  {
    pos: { left: 1531, top: 0, width: 1531, height: 1228 },
    cfg: {
      label: '(b) A2', labelX: 195, labelY: 81,
      grid: { left: 185, top: 41, width: 1253, height: 1009 },
      xNameGap: 101,
      yMax: 0.14, yInterval: 0.02, showMaxLabel: true,
      names: A2_NAMES,
      values: [A2_0h, A2_07h, A2_15h, A2_25h, A2_4h, A2_6h, A2_29h, A2_77h, A2_148h, A2_193h],
      colors: A_COLORS, marks: A_MARKS,
      legends: [{ left: 1121, top: 138, from: 0, to: 10 }],
      legendGap: 12.4,
    },
  },
  {
    pos: { left: 0, top: 1228, width: 1531, height: 1227 },
    cfg: {
      label: '(c) B1', labelX: 227, labelY: 66,
      grid: { left: 210, top: 27, width: 1246, height: 1004 },
      xNameGap: 94,
      yMax: 0.16, yInterval: 0.02, showMaxLabel: true,
      names: B_NAMES,
      values: [B1_0h, B1_05h, B1_1h, B1_15h, B1_2h, B1_3h, B1_4h, B1_6h, B1_22h, B1_30h, B1_46h, B1_53h, B1_120h],
      colors: B_COLORS, marks: B_MARKS,
      legends: [
        { left: 915, top: 83, from: 0, to: 7 },
        { left: 1174, top: 83, from: 7, to: 13 },
      ],
      legendGap: 12.2,
    },
  },
  {
    pos: { left: 1531, top: 1228, width: 1531, height: 1227 },
    cfg: {
      label: '(d) B2', labelX: 198, labelY: 64,
      grid: { left: 184, top: 23, width: 1254, height: 1009 },
      xNameGap: 94,
      yMax: 0.11, yInterval: 0.02, showMaxLabel: false,
      names: B_NAMES,
      values: [B2_0h, B2_05h, B2_1h, B2_15h, B2_2h, B2_3h, B2_4h, B2_6h, B2_22h, B2_30h, B2_46h, B2_53h, B2_120h],
      colors: B_COLORS, marks: B_MARKS,
      legends: [
        { left: 909, top: 97, from: 0, to: 7 },
        { left: 1170, top: 97, from: 7, to: 13 },
      ],
      legendGap: 12.1,
    },
  },
];

function Panel({ pos, cfg }: { pos: { left: number; top: number; width: number; height: number }; cfg: PanelCfg }) {
  const ref = useRef<HTMLDivElement>(null);
  useEffect(() => {
    if (!ref.current) return;
    const chart = echarts.init(ref.current, null, { renderer: 'svg' });
    chart.setOption(buildOption(cfg) as any);
    return () => chart.dispose();
  }, [cfg]);
  return (
    <div
      ref={ref}
      style={{ position: 'absolute', left: pos.left, top: pos.top, width: pos.width, height: pos.height }}
    />
  );
}

export default function App() {
  useEffect(() => {
    document.body.style.margin = '0';
    document.body.style.overflow = 'hidden';
  }, []);
  return (
    <div style={{ position: 'absolute', left: 0, top: 0, width: 3062, height: 2455, background: '#fff' }}>
      {PANELS.map((p, i) => (
        <Panel key={i} pos={p.pos} cfg={p.cfg} />
      ))}
    </div>
  );
}
